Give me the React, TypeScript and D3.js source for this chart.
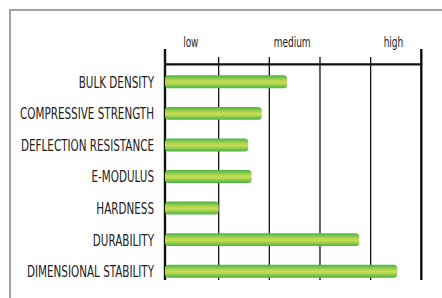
import React, { useEffect, useRef } from 'react';
import * as d3 from 'd3';

const categories = [
  'BULK DENSITY',
  'COMPRESSIVE STRENGTH',
  'DEFLECTION RESISTANCE',
  'E-MODULUS',
  'HARDNESS',
  'DURABILITY',
  'DIMENSIONAL STABILITY',
];
const values = [47, 37, 31.7, 33, 20, 75.5, 90.5];
const gridValues = [20, 40, 60, 80];
const levelLabels = ['low', 'medium', 'high'];
const levelPositions = [9, 49, 89];

const App: React.FC = () => {
  const svgRef = useRef<SVGSVGElement>(null);

  useEffect(() => {
    if (!svgRef.current) return;
    const svg = d3.select(svgRef.current);
    svg.selectAll('*').remove();

    const width = 442;
    const height = 298;
    const font = "'DejaVu Sans Condensed', 'Liberation Sans Narrow', 'DejaVu Sans', sans-serif";

    const x = d3.scaleLinear().domain([0, 100]).range([168, 421.3]);
    const y = d3.scaleBand<string>()
      .domain(categories)
      .range([66, 287])
      .paddingInner(0.59)
      .paddingOuter(0.295);

    const axisLeft = x(0) - 3;
    const axisRight = x(100);
    const axisTop = 64.3;
    const axisBottom = 280;

    // frame
    svg.append('rect')
      .attr('width', width)
      .attr('height', height)
      .attr('fill', '#fff');
    svg.append('rect')
      .attr('x', 10)
      .attr('y', 10)
      .attr('width', width + 20)
      .attr('height', height + 20)
      .attr('fill', '#fff')
      .attr('stroke', '#a3a3a3')
      .attr('stroke-width', 2);

    // gradient for bars
    const defs = svg.append('defs');
    const grad = defs.append('linearGradient')
      .attr('id', 'barGrad')
      .attr('x1', '0%').attr('y1', '0%')
      .attr('x2', '0%').attr('y2', '100%');
    grad.append('stop').attr('offset', '0%').attr('stop-color', '#46b446');
    grad.append('stop').attr('offset', '40%').attr('stop-color', '#b8d64e');
    grad.append('stop').attr('offset', '58%').attr('stop-color', '#c6de56');
    grad.append('stop').attr('offset', '100%').attr('stop-color', '#45b343');

    // grid lines
    svg.selectAll('line.grid')
      .data(gridValues)
      .join('line')
      .attr('class', 'grid')
      .attr('x1', d => x(d))
      .attr('x2', d => x(d))
      .attr('y1', 57)
      .attr('y2', axisBottom)
      .attr('stroke', '#111')
      .attr('stroke-width', 1.3);

    // outer vertical lines
    svg.selectAll('line.edge')
      .data([axisLeft, axisRight])
      .join('line')
      .attr('class', 'edge')
      .attr('x1', d => d)
      .attr('x2', d => d)
      .attr('y1', 49)
      .attr('y2', axisBottom)
      .attr('stroke', '#111')
      .attr('stroke-width', 2.4);

    // top horizontal line
    svg.append('line')
      .attr('x1', axisLeft)
      .attr('x2', axisRight)
      .attr('y1', axisTop)
      .attr('y2', axisTop)
      .attr('stroke', '#111')
      .attr('stroke-width', 2.2);

    // level labels (condensed look via horizontal scale)
    const levels = svg.selectAll('text.level')
      .data(levelLabels)
      .join('text')
      .attr('class', 'level')
      .attr('text-anchor', 'middle')
      .style('font-family', font)
      .style('font-size', '14.5px')
      .style('fill', '#222')
      .text(d => d);
    const medNode = levels.nodes()[1] as SVGTextElement;
    const kLevel = Math.min(1, 37 / medNode.getComputedTextLength());
    levels.attr('transform', (_, i) => `translate(${x(levelPositions[i])},47) scale(${kLevel},1)`);

    // bars
    svg.selectAll('rect.bar')
      .data(categories)
      .join('rect')
      .attr('class', 'bar')
      .attr('x', axisLeft)
      .attr('y', d => y(d) as number)
      .attr('width', (_, i) => x(values[i]) - axisLeft)
      .attr('height', y.bandwidth())
      .attr('rx', 3.5)
      .attr('fill', 'url(#barGrad)');

    // category labels
    const cats = svg.selectAll('text.cat')
      .data(categories)
      .join('text')
      .attr('class', 'cat')
      .attr('dy', '0.36em')
      .attr('text-anchor', 'end')
      .style('font-family', font)
      .style('font-size', '16.5px')
      .style('fill', '#222')
      .text(d => d);
    const longest = cats.nodes()[1] as SVGTextElement;
    const kCat = Math.min(1, 134 / longest.getComputedTextLength());
    cats.attr('transform', d => `translate(154,${(y(d) as number) + y.bandwidth() / 2}) scale(${kCat},1)`);
  }, []);

  return (
    <svg
      ref={svgRef}
      width={442}
      height={298}
      style={{ position: 'absolute', left: 0, top: 0, display: 'block' }}
    />
  );
};

export default App;
